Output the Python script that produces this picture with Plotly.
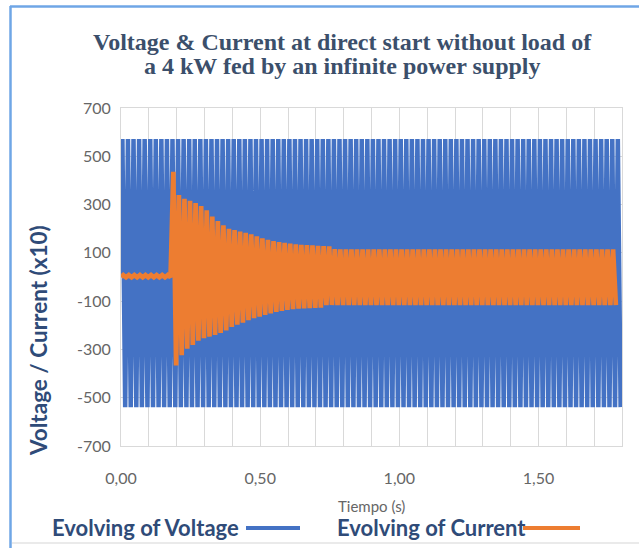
import plotly.graph_objects as go

# ---- waveform data (peak values per cycle, 50 Hz, values in V and A x10) ----
HALF_PERIOD = 0.01          # s between a positive and a negative peak
V_FIRST_PEAK = 0.005        # s, first positive voltage peak
I_FIRST_PEAK = 0.008        # s, first positive current peak

# Voltage: positive and negative peak of every cycle
V_TOPS = [
    572, 572, 572, 572, 572, 572, 572, 572, 572, 572, 572, 572, 572, 572, 572,
    572, 572, 572, 572, 572, 572, 572, 572, 572, 572, 572, 572, 572, 572, 572,
    572, 572, 572, 572, 572, 572, 572, 572, 572, 572, 572, 572, 572, 572, 572,
    572, 572, 572, 572, 572, 572, 572, 572, 572, 572, 572, 572, 572, 572, 572,
    572, 572, 572, 572, 572, 572, 572, 572, 572, 572, 572, 572, 572, 572, 572,
    572, 572, 572, 572, 572, 572, 572, 572, 572, 572, 572, 572, 572, 572, 572,
]
V_BOTTOMS = [
    -539, -539, -539, -539, -539, -539, -539, -539, -539, -539, -539, -539, -539, -539, -539,
    -539, -539, -539, -539, -539, -539, -539, -539, -539, -539, -539, -539, -539, -539, -539,
    -539, -539, -539, -539, -539, -539, -539, -539, -539, -539, -539, -539, -539, -539, -539,
    -539, -539, -539, -539, -539, -539, -539, -539, -539, -539, -539, -539, -539, -539, -539,
    -539, -539, -539, -539, -539, -539, -539, -539, -539, -539, -539, -539, -539, -539, -539,
    -539, -539, -539, -539, -539, -539, -539, -539, -539, -539, -539, -539, -539, -539, -539,
]

# Current: idle before the contactor closes, inrush transient, then no-load current
I_TOPS = [
    8, 8, 8, 8, 8, 8, 8, 8, 8,
    436, 339, 324, 316, 306, 294, 276, 250, 232, 214,
    200, 194, 188, 183, 177, 168, 160, 154, 149, 145,
    141, 138, 135, 133, 132, 131, 129, 128, 127, 115,
    114, 114, 114, 114, 114, 114, 114, 114, 114, 114,
    114, 114, 114, 114, 114, 114, 114, 114, 114, 114,
    114, 114, 114, 114, 114, 114, 114, 114, 114, 114,
    114, 114, 114, 114, 114, 114, 114, 114, 114, 114,
    114, 114, 114, 114, 114, 114, 114, 114, 114, 114,
]
I_BOTTOMS = [
    -1, -1, -1, -1, -1, -1, -1, -1, -1,
    -366, -324, -297, -281, -264, -254, -247, -240, -232, -221,
    -207, -198, -189, -179, -171, -164, -157, -151, -145, -140,
    -136, -133, -131, -130, -129, -128, -127, -117, -116, -116,
    -116, -116, -116, -116, -116, -116, -116, -116, -116, -116,
    -116, -116, -116, -116, -116, -116, -116, -116, -116, -116,
    -116, -116, -116, -116, -116, -116, -116, -116, -116, -116,
    -116, -116, -116, -116, -116, -116, -116, -116, -116, -116,
    -116, -116, -116, -116, -116, -116, -116, -116, -116, -116,
]

X_TICKS = [0.0, 0.5, 1.0, 1.5]
X_TICK_TEXT = ["0,00", "0,50", "1,00", "1,50"]
Y_TICKS = [-700, -500, -300, -100, 100, 300, 500, 700]
Y_TICK_TEXT = ["-700", "-500", "-300", "-100", "100", "300", "500", "700"]

TITLE_LINES = ["Voltage & Current at direct start without load of",
               "a 4 kW fed by an infinite power supply"]
SERIES_NAMES = ["Evolving of Voltage", "Evolving of Current"]


def peaks_to_wave(first_peak, tops, bottoms):
    """Join alternating positive/negative peaks into one polyline."""
    t, y = [0.0], [0.0]
    for k, (hi, lo) in enumerate(zip(tops, bottoms)):
        t += [first_peak + 2 * k * HALF_PERIOD, first_peak + (2 * k + 1) * HALF_PERIOD]
        y += [hi, lo]
    return t, y


vt, vy = peaks_to_wave(V_FIRST_PEAK, V_TOPS, V_BOTTOMS)
it, iy = peaks_to_wave(I_FIRST_PEAK, I_TOPS, I_BOTTOMS)

BLUE = "#4472C4"
ORANGE = "#ED7D31"
GRID = "#D9D9D9"
TICK_FONT = dict(family="Lato, sans-serif", size=16, color="#666666")
LABEL_BLUE = "#2F4B78"

fig = go.Figure()
fig.add_trace(go.Scatter(x=vt, y=vy, mode="lines", name=SERIES_NAMES[0],
                         line=dict(color=BLUE, width=4.5, simplify=False)))
fig.add_trace(go.Scatter(x=it, y=iy, mode="lines", name=SERIES_NAMES[1],
                         line=dict(color=ORANGE, width=4.7, simplify=False)))

# plot area in pixels: x 121..622, y 108..446
L, R, T, B = 121, 622, 108, 446


def px(x):
    return (x - L) / (R - L)


def py(y):
    return (B - y) / (B - T)


shapes = [
    # frame of the chart
    dict(type="line", xref="paper", yref="paper", x0=px(10.5), x1=px(10.5), y0=py(6), y1=py(548),
         line=dict(color="#6FA6E6", width=2.5)),
    dict(type="line", xref="paper", yref="paper", x0=px(10), x1=px(639), y0=py(6.5), y1=py(6.5),
         line=dict(color="#6FA6E6", width=2.5)),
    dict(type="line", xref="paper", yref="paper", x0=px(12), x1=px(639), y0=py(543), y1=py(543),
         line=dict(color="#E3E3E3", width=1.5)),
    # legend swatches
    dict(type="line", xref="paper", yref="paper", x0=px(246), x1=px(300), y0=py(528), y1=py(528),
         line=dict(color=BLUE, width=4)),
    dict(type="line", xref="paper", yref="paper", x0=px(523), x1=px(580), y0=py(528), y1=py(528),
         line=dict(color=ORANGE, width=4)),
]

TITLE_FONT = dict(family="Liberation Serif, serif", size=24, color="#3B4F6B")

annotations = [
    dict(text="<b>" + TITLE_LINES[0] + "</b>", xref="paper", yref="paper", x=px(342), y=py(42),
         showarrow=False, xanchor="center", yanchor="middle", font=TITLE_FONT),
    dict(text="<b>" + TITLE_LINES[1] + "</b>", xref="paper", yref="paper", x=px(342), y=py(66),
         showarrow=False, xanchor="center", yanchor="middle", font=TITLE_FONT),
    dict(text="<b>Voltage / Current (x10)</b>", xref="paper", yref="paper", x=px(38), y=py(341),
         textangle=-90, showarrow=False, xanchor="center", yanchor="middle",
         font=dict(family="Lato, sans-serif", size=22.5, color=LABEL_BLUE)),
    dict(text="Tiempo (s)", xref="paper", yref="paper", x=0.5, y=py(506),
         showarrow=False, xanchor="center", yanchor="middle",
         font=dict(family="Lato, sans-serif", size=15, color="#666666")),
    dict(text="<b>" + SERIES_NAMES[0] + "</b>", xref="paper", yref="paper", x=px(50), y=py(527),
         showarrow=False, xanchor="left", yanchor="middle",
         font=dict(family="Lato, sans-serif", size=22, color=LABEL_BLUE)),
    dict(text="<b>" + SERIES_NAMES[1] + "</b>", xref="paper", yref="paper", x=px(335), y=py(527),
         showarrow=False, xanchor="left", yanchor="middle",
         font=dict(family="Lato, sans-serif", size=22, color=LABEL_BLUE)),
]

fig.update_layout(
    width=639, height=548,
    margin=dict(l=L, r=639 - R, t=T, b=548 - B),
    paper_bgcolor="white", plot_bgcolor="white",
    showlegend=False,
    shapes=shapes,
    annotations=annotations,
)
fig.update_xaxes(range=[0, 1.8], tickvals=X_TICKS, ticktext=X_TICK_TEXT, tickfont=TICK_FONT,
                 showgrid=True, gridcolor=GRID, gridwidth=1, zeroline=False,
                 showline=True, linecolor=GRID, mirror=True, ticks="", ticklabelstandoff=18,
                 minor=dict(dtick=0.1, tick0=0, showgrid=True, gridcolor=GRID, gridwidth=1))
fig.update_yaxes(range=[-700, 700], tickvals=Y_TICKS, ticktext=Y_TICK_TEXT, tickfont=TICK_FONT,
                 showgrid=True, gridcolor=GRID, gridwidth=1, zeroline=False,
                 showline=True, linecolor=GRID, mirror=True, ticks="", ticklabelstandoff=6)

fig.write_html("out.html")
